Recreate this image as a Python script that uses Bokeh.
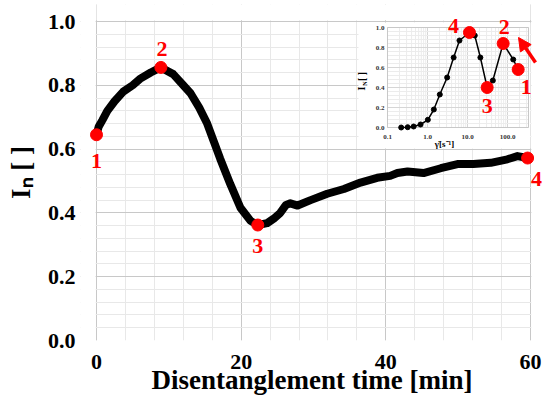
import math
from bokeh.plotting import figure
from bokeh.models import Range1d, LogScale, FixedTicker, Label, Arrow, NormalHead, ColumnDataSource
from bokeh.embed import file_html
from bokeh.resources import INLINE
from bokeh.core.properties import value

# ---------------- data ----------------
time_min = [0.0, 0.3, 0.8, 1.5, 2.5, 3.7, 5.0, 6.0, 7.5, 8.9, 10.6, 12.0, 13.0, 14.2,
            15.3, 16.2, 17.1, 18.5, 19.9, 21.3, 22.3, 23.6, 24.5, 25.4, 26.2, 26.8,
            27.8, 29.6, 31.9, 34.2, 36.5, 38.8, 40.6, 41.6, 43.0, 45.2, 47.6, 49.9,
            52.1, 54.5, 56.8, 58.2, 59.6]
intensity = [0.645, 0.67, 0.69, 0.72, 0.75, 0.78, 0.80, 0.82, 0.84, 0.856, 0.835, 0.80,
             0.775, 0.73, 0.68, 0.625, 0.57, 0.49, 0.416, 0.375, 0.362, 0.368, 0.382,
             0.40, 0.425, 0.43, 0.423, 0.44, 0.46, 0.475, 0.495, 0.51, 0.516, 0.525,
             0.53, 0.525, 0.54, 0.553, 0.553, 0.557, 0.568, 0.578, 0.572]
marker_time = [0.0, 8.9, 22.3, 59.6]
marker_int = [0.645, 0.856, 0.362, 0.572]
marker_labels = ["1", "2", "3", "4"]

shear_rate = [0.22, 0.32, 0.45, 0.67, 1.02, 1.44, 2.03, 3.1, 4.5, 6.3, 11.2, 15.2,
              21.0, 31.0, 43.0, 78.0, 139.0, 185.0]
inset_int = [0.0, 0.003, 0.01, 0.03, 0.077, 0.18, 0.33, 0.50, 0.70, 0.87, 0.95, 0.92,
             0.70, 0.40, 0.47, 0.84, 0.68, 0.58]
inset_red_idx = [10, 13, 15, 17]
inset_red_labels = ["4", "3", "2", "1"]

x_ticks = [0, 20, 40, 60]
x_tick_labels = ["0", "20", "40", "60"]
y_ticks = [0.0, 0.2, 0.4, 0.6, 0.8, 1.0]
y_tick_labels = ["0.0", "0.2", "0.4", "0.6", "0.8", "1.0"]
inset_x_ticks = [0.1, 1.0, 10.0, 100.0]
inset_x_tick_labels = ["0.1", "1.0", "10.0", "100.0"]
inset_y_ticks = [0.0, 0.2, 0.4, 0.6, 0.8, 1.0]
inset_y_tick_labels = ["0.0", "0.2", "0.4", "0.6", "0.8", "1.0"]

x_title = "Disentanglement time [min]"
y_title = "I\u2099 [ ]"
inset_x_title = "\u03b3\u0307[s\u207b\u00b9]"

# ---------------- layout constants ----------------
W, H = 543, 400
PX0, PX60, PY0, PY1 = 96, 530, 340, 21      # pixel of x=0, x=60, y=0, y=1
FL, FR, FT, FB = 80, 543, 4, 340            # frame edges (px)
IX0_PX, PX_DEC = 387, 40.0                  # inset: px of x=0.1, px per decade
IY0_PX, PX_UNIT = 127, 100.0                # inset: px of y=0, px per unit
INSET_XMAX = 10 ** (-1 + (528 - IX0_PX) / PX_DEC)

FONT = value("Liberation Serif")
RED = "#ff0000"

def mx(px):
    return (px - PX0) * 60.0 / (PX60 - PX0)

def my(py):
    return (PY0 - py) / float(PY0 - PY1)

def ix(px):
    return 10 ** (-1 + (px - IX0_PX) / PX_DEC)

def iy(py):
    return (IY0_PX - py) / PX_UNIT

p = figure(width=W, height=H, x_range=Range1d(mx(FL), mx(FR)), y_range=Range1d(0, my(FT)),
           output_backend="svg", toolbar_location=None,
           min_border_left=FL, min_border_right=W - FR, min_border_top=FT,
           min_border_bottom=H - FB, outline_line_color=None)
p.extra_x_ranges = {"ix": Range1d(ix(FL), ix(FR))}
p.extra_x_scales = {"ix": LogScale()}
p.extra_y_ranges = {"iy": Range1d(iy(FB), iy(FT))}

# axes
p.xaxis.ticker = FixedTicker(ticks=x_ticks, minor_ticks=list(range(0, 61, 4)))
p.yaxis.ticker = FixedTicker(ticks=y_ticks, minor_ticks=[round(i * 0.04, 2) for i in range(26)])
p.xaxis.major_label_overrides = {t: l for t, l in zip(x_ticks, x_tick_labels)}
p.yaxis.major_label_overrides = {t: l for t, l in zip(y_ticks, y_tick_labels)}
for ax in (p.xaxis, p.yaxis):
    ax.axis_line_color = None
    ax.major_tick_line_color = None
    ax.minor_tick_line_color = None
    ax.major_tick_out = 0
    ax.minor_tick_out = 0
    ax.major_label_text_font = "Liberation Serif"
    ax.major_label_text_font_style = "bold"
    ax.major_label_text_font_size = "22px"
    ax.major_label_text_color = "black"
    ax.axis_label_text_font = "Liberation Serif"
    ax.axis_label_text_font_style = "bold"
    ax.axis_label_text_font_size = "27px"
    ax.axis_label_text_color = "black"
p.xaxis.major_label_standoff = 14
p.yaxis.major_label_standoff = 5
p.xaxis.axis_label = x_title
p.yaxis.axis_label = y_title
p.xaxis.axis_label_standoff = -7
p.yaxis.axis_label_standoff = 9

for g in (p.xgrid, p.ygrid):
    g.grid_line_color = "#c8c8c8"
    g.minor_grid_line_color = "#e8e8e8"

# white margins outside the 0..60 x 0..1 plotting box (inside the frame)
eps_x, eps_y = 0.12, 0.004
p.quad(left=[mx(FL), 60 + eps_x, 0], right=[-eps_x, mx(FR), 60],
       bottom=[0, 0, 1 + eps_y], top=[my(FT), my(FT), my(FT)],
       fill_color="white", line_color=None)

# main curve
p.line(time_min, intensity, line_width=8, line_color="black", line_join="round", line_cap="round")
p.scatter(marker_time, marker_int, size=12, fill_color=RED, line_color=RED)

main_offsets = [(0, -26), (1, 18), (0, -21), (9, -21)]
for t, v, lab, (dx, dy) in zip(marker_time, marker_int, marker_labels, main_offsets):
    p.add_layout(Label(x=t, y=v, text=lab, x_offset=dx, y_offset=dy, text_align="center",
                       text_baseline="middle", text_color=RED, text_font="Liberation Serif",
                       text_font_style="bold", text_font_size="22px"))

# ---------------- inset ----------------
R = dict(x_range_name="ix", y_range_name="iy")
p.quad(left=ix(358), right=ix(PX60), bottom=iy(148), top=iy(PY1 + 1), fill_color="white",
       line_color=None, **R)
vx = []
for n in range(-1, 3):
    for k in range(1, 10):
        v = k * 10 ** n
        if v <= INSET_XMAX:
            vx.append(v)
p.segment(x0=vx, y0=[0] * len(vx), x1=vx, y1=[1] * len(vx),
          line_color=["#d6d6d6" if any(abs(v - t) < 1e-9 for t in inset_x_ticks) else "#ececec"
                      for v in vx], line_width=1, **R)
hy = [round(i * 0.04, 2) for i in range(26)]
p.segment(x0=[0.1] * len(hy), y0=hy, x1=[INSET_XMAX] * len(hy), y1=hy,
          line_color=["#d6d6d6" if any(abs(h - t) < 1e-9 for t in inset_y_ticks) else "#ececec"
                      for h in hy], line_width=1, **R)
p.quad(left=0.1, right=INSET_XMAX, bottom=0, top=1, fill_color=None, line_color="#c8c8c8", **R)

p.line(shear_rate, inset_int, line_color="black", line_width=1.5, **R)
p.scatter(shear_rate, inset_int, size=5, fill_color="black", line_color="black", **R)
rx = [shear_rate[i] for i in inset_red_idx]
ry = [inset_int[i] for i in inset_red_idx]
p.scatter(rx, ry, size=12, fill_color=RED, line_color=RED, **R)
inset_offsets = [(-16, 7), (0, -18), (1, 17), (8, -17)]
for x, y, lab, (dx, dy) in zip(rx, ry, inset_red_labels, inset_offsets):
    p.add_layout(Label(x=x, y=y, text=lab, x_offset=dx, y_offset=dy, text_align="center",
                       text_baseline="middle", text_color=RED, text_font="Liberation Serif",
                       text_font_style="bold", text_font_size="22px", **R))

p.add_layout(Arrow(end=NormalHead(size=13, fill_color=RED, line_color=RED),
                   x_start=ix(535), y_start=iy(62), x_end=ix(518), y_end=iy(37),
                   line_color=RED, line_width=3.5, **R))

src_xt = ColumnDataSource(dict(x=inset_x_ticks, y=[iy(136)] * 4, t=inset_x_tick_labels))
p.text(x="x", y="y", text="t", source=src_xt, text_align="center", text_baseline="middle",
       text_font=FONT, text_font_style="bold", text_font_size="7px", text_color="#333333", **R)
src_yt = ColumnDataSource(dict(x=[ix(384)] * 6, y=inset_y_ticks, t=inset_y_tick_labels))
p.text(x="x", y="y", text="t", source=src_yt, text_align="right", text_baseline="middle",
       text_font=FONT, text_font_style="bold", text_font_size="7px", text_color="#333333", **R)

p.add_layout(Label(x=ix(444), y=iy(143), text=inset_x_title, text_align="center",
                   text_baseline="middle", text_font="Liberation Serif", text_font_style="bold",
                   text_font_size="9px", text_color="black", **R))
for txt, px, py, fs in [("I", 361, 88, "10px"), ("N", 364, 83, "6px"), ("[ ]", 361, 76, "10px")]:
    p.add_layout(Label(x=ix(px), y=iy(py), text=txt, angle=math.pi / 2, text_align="center",
                       text_baseline="middle", text_font="Liberation Serif",
                       text_font_style="bold", text_font_size=fs, text_color="black", **R))

open("out.html", "w").write(file_html(p, INLINE))
